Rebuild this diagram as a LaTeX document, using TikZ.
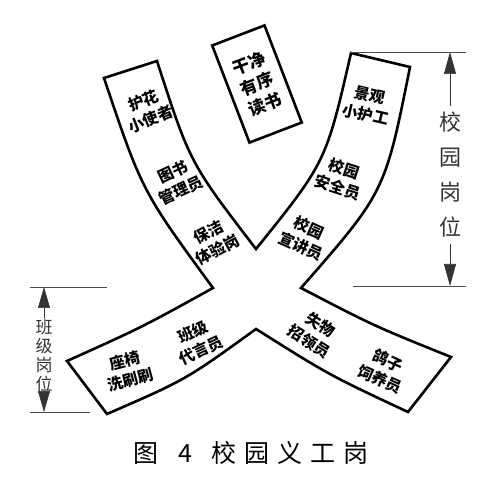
\documentclass[tikz,border=0pt]{standalone}
\usepackage{fontspec}
\newfontfamily\cjk{Noto Sans CJK SC}
\usetikzlibrary{arrows.meta}
\tikzset{
  band/.style={line width=2.6pt, line join=miter},
  post/.style={font=\cjk\bfseries\fontsize{15.5}{20}\selectfont, align=center, inner sep=0pt},
  dimline/.style={line width=0.6pt, black!70},
  dimarrow/.style={line width=0.6pt, black!80, -{Triangle[length=#1,width=12pt]}},
  dimarrow/.default=22pt,
  sidelabel/.style={black!80, align=center},
}
\begin{document}
\begin{tikzpicture}[x=1pt,y=-1pt]
\useasboundingbox (0,0) rectangle (493,489);
\draw[band] (104,78) -- (157,61)
  .. controls (190,163) .. (256,249)
  .. controls (326,162) .. (351,53)
  -- (410,67)
  .. controls (385,192) .. (301,288)
  .. controls (374.3,326.1) .. (451,357)
  -- (408,412)
  .. controls (329.4,375.2) .. (256,329)
  .. controls (186.1,379.6) .. (107,414)
  -- (67,361)
  .. controls (141.5,327.5) .. (213,288)
  .. controls (142,191) .. (104,78) -- cycle;
\node[post, rotate=22] (HuHua) at (147,110) {护花\\小使者};
\node[post, rotate=25] (TuShu) at (177,181) {图书\\管理员};
\node[post, rotate=28] (BaoJie) at (213,241) {保洁\\体验岗};
\node[post, rotate=-13] (JingGuan) at (368,105) {景观\\小护工};
\node[post, rotate=-18] (AnQuan) at (341,178) {校园\\安全员};
\node[post, rotate=-24] (XuanJiang) at (305,237) {校园\\宣讲员};
\node[post, rotate=-33] (ShiWu) at (315,333) {失物\\招领员};
\node[post, rotate=-24] (GeZi) at (384,370) {鸽子\\饲养员};
\node[post, rotate=15] (ZuoYi) at (128,370) {座椅\\洗刷刷};
\node[post, rotate=25] (BanJi) at (197,341) {班级\\代言员};
\node[draw, band, rotate=21, minimum width=56pt, minimum height=104pt,
  font=\cjk\bfseries\fontsize{17}{22}\selectfont, align=center] (DuShu) at (257,84) {干净\\有序\\读书};
\coordinate (CampusTop) at (450,52);
\coordinate (CampusBot) at (450,286);
\node[sidelabel, font=\cjk\fontsize{22}{35}\selectfont, inner sep=6pt] (Campus) at (450,175) {校\\园\\岗\\位};
\draw[dimarrow] (Campus) -- (CampusTop);
\draw[dimarrow] (Campus) -- (CampusBot);
\draw[dimline] ([xshift=-100pt]CampusTop) -- ([xshift=16pt]CampusTop);
\draw[dimline] ([xshift=-97pt]CampusBot) -- ([xshift=16pt]CampusBot);
\coordinate (ClassTop) at (44,287);
\coordinate (ClassBot) at (44,412);
\node[sidelabel, font=\cjk\fontsize{17}{19}\selectfont, inner sep=1pt] (ClassPost) at (44,356) {班\\级\\岗\\位};
\draw[dimarrow=21pt] (ClassPost) -- (ClassTop);
\draw[dimarrow=21pt] (ClassPost) -- (ClassBot);
\draw[dimline] ([xshift=-14pt]ClassTop) -- ([xshift=63pt]ClassTop);
\draw[dimline] ([xshift=-14pt]ClassBot) -- ([xshift=46pt]ClassBot);
\node[font=\cjk\fontsize{25}{25}\selectfont] (Caption) at (251,453)
  {图\hspace{20pt}4\hspace{20pt}校\hspace{8pt}园\hspace{8pt}义\hspace{8pt}工\hspace{8pt}岗};
\end{tikzpicture}
\end{document}
